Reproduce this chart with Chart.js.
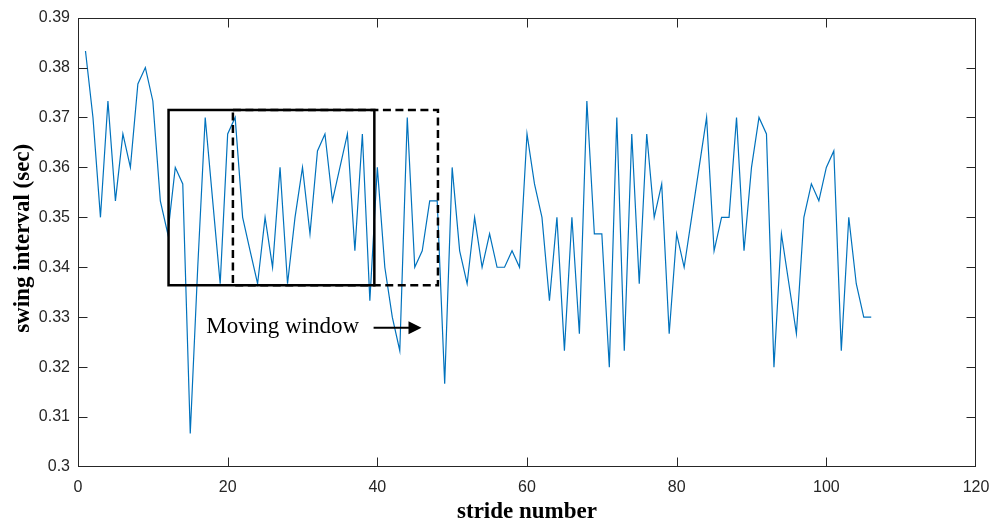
<!DOCTYPE html>
<html>
<head>
<meta charset="utf-8">
<script src="https://cdn.jsdelivr.net/npm/chart.js@4.4.1/dist/chart.umd.min.js"></script>
<style>
  html, body { margin: 0; padding: 0; background: #ffffff; }
  #wrap { width: 1002px; height: 522px; position: relative; }
</style>
</head>
<body>
<div id="wrap"><canvas id="c"></canvas></div>
<script>
// ---- data ----
const strideNumbers = [];
for (let i = 1; i <= 106; i++) strideNumbers.push(i);
const swingInterval = [
  0.3833, 0.3700, 0.3500, 0.3733, 0.3533, 0.3667, 0.3600, 0.3767, 0.3800, 0.3733,
  0.3533, 0.3467, 0.3600, 0.3567, 0.3067, 0.3400, 0.3700, 0.3533, 0.3367, 0.3667,
  0.3700, 0.3500, 0.3433, 0.3367, 0.3500, 0.3400, 0.3600, 0.3367, 0.3500, 0.3600,
  0.3467, 0.3633, 0.3667, 0.3533, 0.3600, 0.3667, 0.3433, 0.3667, 0.3333, 0.3600,
  0.3400, 0.3300, 0.3233, 0.3700, 0.3400, 0.3433, 0.3533, 0.3533, 0.3167, 0.3600,
  0.3433, 0.3367, 0.3500, 0.3400, 0.3467, 0.3400, 0.3400, 0.3433, 0.3400, 0.3667,
  0.3567, 0.3500, 0.3333, 0.3500, 0.3233, 0.3500, 0.3267, 0.3733, 0.3467, 0.3467,
  0.3200, 0.3700, 0.3233, 0.3667, 0.3367, 0.3667, 0.3500, 0.3567, 0.3267, 0.3467,
  0.3400, 0.3500, 0.3600, 0.3700, 0.3433, 0.3500, 0.3500, 0.3700, 0.3433, 0.3600,
  0.3700, 0.3667, 0.3200, 0.3467, 0.3367, 0.3267, 0.3500, 0.3567, 0.3533, 0.3600,
  0.3633, 0.3233, 0.3500, 0.3367, 0.3300, 0.3300
];
const xTickValues = [0, 20, 40, 60, 80, 100, 120];
const xTickLabels = ['0', '20', '40', '60', '80', '100', '120'];
const yTickValues = [0.30, 0.31, 0.32, 0.33, 0.34, 0.35, 0.36, 0.37, 0.38, 0.39];
const yTickLabels = ['0.3', '0.31', '0.32', '0.33', '0.34', '0.35', '0.36', '0.37', '0.38', '0.39'];
const xAxisTitle = 'stride number';
const yAxisTitle = 'swing interval (sec)';
// moving windows in data units: [xStart, xEnd, yLow, yHigh]
const solidWindow = [12.1, 39.6, 0.3364, 0.3715];
const dashedWindow = [20.7, 48.1, 0.3364, 0.3715];
const annotationText = 'Moving window';
const annotationPos = [17.15, 0.3269];     // text left / baseline
const arrowFromTo = [39.5, 45.9, 0.3279];   // x start, x end, y

const points = strideNumbers.map((x, i) => ({ x: x, y: swingInterval[i] }));

const axisColor = '#262626';

const decorPlugin = {
  id: 'decor',
  afterDatasetsDraw(chart) {
    const ctx = chart.ctx;
    const a = chart.chartArea;
    const xs = chart.scales.x, ys = chart.scales.y;
    ctx.save();
    // box
    const L = Math.round(xs.getPixelForValue(0)) + 0.5;
    const R = Math.round(xs.getPixelForValue(120)) - 0.5;
    const T = Math.round(ys.getPixelForValue(0.39)) + 0.5;
    const B = Math.round(ys.getPixelForValue(0.30)) - 0.5;
    ctx.strokeStyle = axisColor;
    ctx.lineWidth = 1;
    ctx.strokeRect(L, T, R - L, B - T);
    // inward ticks
    const tl = 9;
    ctx.beginPath();
    xTickValues.slice(1, -1).forEach(v => {
      const px = Math.round(xs.getPixelForValue(v)) + 0.5;
      ctx.moveTo(px, B); ctx.lineTo(px, B - tl);
      ctx.moveTo(px, T); ctx.lineTo(px, T + tl);
    });
    yTickValues.slice(1, -1).forEach(v => {
      const py = Math.round(ys.getPixelForValue(v)) + 0.5;
      ctx.moveTo(L, py); ctx.lineTo(L + tl, py);
      ctx.moveTo(R, py); ctx.lineTo(R - tl, py);
    });
    ctx.stroke();

    // dashed window
    ctx.strokeStyle = '#000000';
    ctx.lineWidth = 2.5;
    ctx.setLineDash([8, 4.5]);
    let x0 = xs.getPixelForValue(dashedWindow[0]), x1 = xs.getPixelForValue(dashedWindow[1]);
    let y0 = ys.getPixelForValue(dashedWindow[3]), y1 = ys.getPixelForValue(dashedWindow[2]);
    ctx.strokeRect(x0, y0, x1 - x0, y1 - y0);
    // solid window
    ctx.setLineDash([]);
    x0 = xs.getPixelForValue(solidWindow[0]); x1 = xs.getPixelForValue(solidWindow[1]);
    y0 = ys.getPixelForValue(solidWindow[3]); y1 = ys.getPixelForValue(solidWindow[2]);
    ctx.strokeRect(x0, y0, x1 - x0, y1 - y0);

    // annotation text
    ctx.fillStyle = '#000000';
    ctx.font = '23px "Liberation Serif", "Times New Roman", serif';
    ctx.textAlign = 'left';
    ctx.textBaseline = 'alphabetic';
    ctx.fillText(annotationText, xs.getPixelForValue(annotationPos[0]), ys.getPixelForValue(annotationPos[1]));

    // arrow
    const ax0 = xs.getPixelForValue(arrowFromTo[0]);
    const ax1 = xs.getPixelForValue(arrowFromTo[1]);
    const ay = ys.getPixelForValue(arrowFromTo[2]);
    ctx.lineWidth = 2;
    ctx.beginPath();
    ctx.moveTo(ax0, ay); ctx.lineTo(ax1 - 10, ay);
    ctx.stroke();
    ctx.beginPath();
    ctx.moveTo(ax1, ay);
    ctx.lineTo(ax1 - 13, ay - 6.5);
    ctx.lineTo(ax1 - 13, ay + 6.5);
    ctx.closePath();
    ctx.fill();

    // axis titles
    ctx.fillStyle = '#000000';
    ctx.font = 'bold 23px "Liberation Serif", "Times New Roman", serif';
    ctx.textAlign = 'center';
    ctx.textBaseline = 'middle';
    ctx.fillText(xAxisTitle, (a.left + a.right) / 2, 512);
    ctx.save();
    ctx.translate(23, (a.top + a.bottom) / 2 - 4);
    ctx.rotate(-Math.PI / 2);
    ctx.fillText(yAxisTitle, 0, 0);
    ctx.restore();

    ctx.restore();
  }
};

new Chart(document.getElementById('c'), {
  type: 'line',
  data: {
    datasets: [{
      data: points,
      borderColor: '#0072BD',
      borderWidth: 1.2,
      pointRadius: 0,
      tension: 0,
      fill: false
    }]
  },
  options: {
    responsive: true,
    maintainAspectRatio: false,
    devicePixelRatio: 1,
    animation: false,
    layout: { padding: { top: 17, right: 26, left: 0, bottom: 0 } },
    plugins: { legend: { display: false }, tooltip: { enabled: false } },
    scales: {
      x: {
        type: 'linear',
        min: 0, max: 120,
        afterBuildTicks: s => { s.ticks = xTickValues.map(v => ({ value: v })); },
        afterFit: s => { s.height = 55; },
        grid: { display: false, drawTicks: false },
        border: { display: false },
        ticks: {
          autoSkip: false,
          maxRotation: 0,
          padding: 11,
          color: axisColor,
          font: { family: '"Liberation Sans", Arial, sans-serif', size: 16 },
          callback: (v, i) => xTickLabels[i]
        }
      },
      y: {
        type: 'linear',
        min: 0.30, max: 0.39,
        afterBuildTicks: s => { s.ticks = yTickValues.map(v => ({ value: v })); },
        afterFit: s => { s.width = 78; },
        grid: { display: false, drawTicks: false },
        border: { display: false },
        ticks: {
          autoSkip: false,
          padding: 8,
          color: axisColor,
          font: { family: '"Liberation Sans", Arial, sans-serif', size: 16 },
          callback: (v, i) => yTickLabels[i]
        }
      }
    }
  },
  plugins: [decorPlugin]
});
</script>
</body>
</html>
